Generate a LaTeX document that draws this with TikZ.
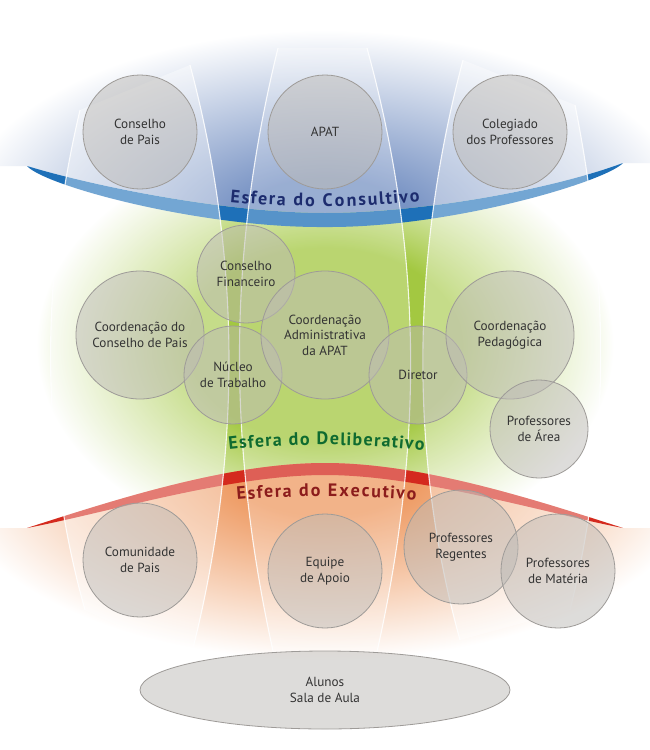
\documentclass[tikz,border=0pt]{standalone}
\usepackage{fontspec}
\usetikzlibrary{shapes.geometric,decorations.text}

\newfontfamily\labelfont{PT Sans}
\newfontfamily\sphfont{PT Sans}
\newcommand{\sphtext}{\sphfont\bfseries\fontsize{18}{18}\selectfont}

\definecolor{consblue}{HTML}{7893C4}
\definecolor{consband}{HTML}{1E70B8}
\definecolor{delgreen}{HTML}{A3C841}
\definecolor{exorange}{HTML}{EE9A62}
\definecolor{exband}{HTML}{D42A1E}
\definecolor{consnavy}{HTML}{1D2C6E}
\definecolor{delink}{HTML}{0F6B30}
\definecolor{exink}{HTML}{8C1C1C}
\definecolor{bubblefill}{HTML}{BDBAB6}
\definecolor{bubbleline}{HTML}{9E9B98}
\definecolor{labelink}{HTML}{333333}

\pgfdeclareradialshading{consfade}{\pgfpoint{0bp}{0bp}}{color(0bp)=(consblue); color(6bp)=(consblue); color(25bp)=(white); color(50bp)=(white)}
\pgfdeclareradialshading{delfade}{\pgfpoint{0bp}{0bp}}{color(0bp)=(delgreen); color(9bp)=(delgreen); color(19bp)=(white); color(50bp)=(white)}
\pgfdeclareradialshading{exfade}{\pgfpoint{0bp}{0bp}}{color(0bp)=(exorange); color(6bp)=(exorange); color(25bp)=(white); color(50bp)=(white)}

\begin{document}
\begin{tikzpicture}[x=1pt, y=-1pt,
		bubble/.style={circle, draw=bubbleline, line width=0.8pt, fill=bubblefill, fill opacity=0.5, text opacity=1, text=labelink, align=center, inner sep=0pt, font=\labelfont\fontsize{13.2}{15.5}\selectfont},
		gore/.style={fill=white, fill opacity=#1},
		gore/.default=0.38,
		meridian/.style={draw=white, line width=1.1pt, opacity=0.85},
		sphere label/.style={decorate, decoration={text effects along path, text align=center, text effects/.cd, text along path, fit text to path, characters={font=\sphtext, text=#1}}}]
				\useasboundingbox (0,0) rectangle (650,750);
				\fill[white] (0,0) rectangle (650,750);
				
				\coordinate (cL) at (27,166);
				\coordinate (cR) at (623,163);
				\coordinate (cT) at (325,213);
				\coordinate (cB) at (325,227);
				\coordinate (eL) at (27,528);
				\coordinate (eR) at (623,528);
				\coordinate (eT) at (325,463);
				\coordinate (eB) at (325,475);
				
				\begin{scope}
					\clip (0,0) -- (650,0) -- (650,163) -- (cR) .. controls (605,182) and (450,228) .. (cB) .. controls (200,228) and (45,186) .. (cL) -- (0,166) -- cycle;
					\shade[shading=consfade] (325,225) ellipse [x radius=370pt, y radius=195pt];
				\end{scope}
				\begin{scope}
					\clip (0,166) -- (cL) .. controls (100,188) and (230,213) .. (cT) .. controls (420,213) and (550,190) .. (cR) -- (650,163) -- (650,528) -- (eR) .. controls (540,512) and (420,475) .. (eB) .. controls (230,475) and (110,512) .. (eL) -- (0,528) -- cycle;
					\shade[shading=delfade] (325,345) ellipse [x radius=380pt, y radius=270pt];
				\end{scope}
				\begin{scope}
					\clip (0,528) -- (eL) .. controls (120,498) and (230,463) .. (eT) .. controls (420,463) and (530,498) .. (eR) -- (650,528) -- (650,750) -- (0,750) -- cycle;
					\shade[shading=exfade] (325,470) ellipse [x radius=380pt, y radius=190pt];
				\end{scope}
				
				\fill[consband] (cL) .. controls (100,188) and (230,213) .. (cT) .. controls (420,213) and (550,190) .. (cR) .. controls (605,182) and (450,228) .. (cB) .. controls (200,228) and (45,186) .. (cL) -- cycle;
				\fill[exband] (eL) .. controls (120,498) and (230,463) .. (eT) .. controls (420,463) and (530,498) .. (eR) .. controls (540,512) and (420,475) .. (eB) .. controls (230,475) and (110,512) .. (eL) -- cycle;
				
				\fill[gore] (80,110) .. controls (40,280) and (40,450) .. (85,610) -- (190,660) .. controls (242,460) and (242,260) .. (190,65) -- cycle;
				\fill[gore=0.25] (278,48) .. controls (226,260) and (226,460) .. (282,690) -- (368,690) .. controls (425,460) and (425,260) .. (367,48) -- cycle;
				\fill[gore] (463,60) .. controls (410,260) and (410,460) .. (460,640) -- (570,610) .. controls (610,450) and (610,280) .. (575,105) -- cycle;
				
				\draw[meridian] (80,110) .. controls (40,280) and (40,450) .. (85,610);
				\draw[meridian] (190,65) .. controls (242,260) and (242,460) .. (190,660);
				\draw[meridian] (278,48) .. controls (226,260) and (226,460) .. (282,690);
				\draw[meridian] (367,48) .. controls (425,260) and (425,460) .. (368,690);
				\draw[meridian] (463,60) .. controls (410,260) and (410,460) .. (460,640);
				\draw[meridian] (575,105) .. controls (610,280) and (610,450) .. (570,610);
				
				\node[bubble, minimum size=114pt] (cpais) at (140,132) {Conselho\\de Pais};
				\node[bubble, minimum size=114pt] (apat) at (325,132) {APAT};
				\node[bubble, minimum size=114pt] (colegiado) at (510,132) {Colegiado\\dos Professores};
				
				\node[bubble, minimum size=98pt] (financeiro) at (246,274) {Conselho\\Financeiro};
				\node[bubble, minimum size=128pt] (coordpais) at (140,335) {Coordenação do\\Conselho de Pais};
				\node[bubble, minimum size=98pt] (nucleo) at (233,375) {Núcleo\\de Trabalho};
				\node[bubble, minimum size=128pt] (coordadm) at (325,335) {Coordenação\\Administrativa\\da APAT};
				\node[bubble, minimum size=98pt] (diretor) at (418,375) {Diretor};
				\node[bubble, minimum size=128pt] (coordped) at (510,335) {Coordenação\\Pedagógica};
				\node[bubble, minimum size=98pt] (profarea) at (539,429) {Professores\\de Área};
				
				\node[bubble, minimum size=114pt] (comunidade) at (140,560) {Comunidade\\de Pais};
				\node[bubble, minimum size=114pt] (equipe) at (325,571) {Equipe\\de Apoio};
				\node[bubble, minimum size=114pt] (regentes) at (461,547) {Professores\\Regentes};
				\node[bubble, minimum size=114pt] (materia) at (558,571) {Professores\\de Matéria};
				
				\node[bubble, ellipse, minimum width=370pt, minimum height=78pt] (alunos) at (325,690) {Alunos\\Sala de Aula};
				
				\path[sphere label=consnavy, decoration={text={Esfera do Consultivo}}] (230,202) .. controls (290,208) and (360,208) .. (420,201);
				\path[sphere label=delink, decoration={text={Esfera do Deliberativo}}] (229,450) .. controls (290,443) and (362,443) .. (424,451);
				\path[sphere label=exink, decoration={text={Esfera do Executivo}}] (237,500) .. controls (290,495) and (362,495) .. (416,500);
			\end{tikzpicture}
\end{document}
